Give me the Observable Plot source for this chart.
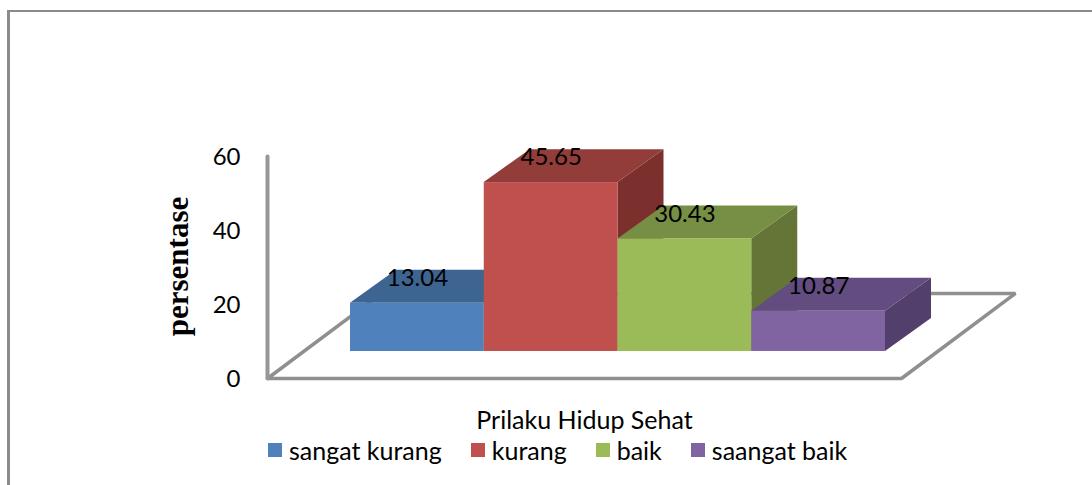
<!DOCTYPE html>
<html>
<head>
<meta charset="utf-8">
<script src="https://cdn.jsdelivr.net/npm/d3@7"></script>
<script src="https://cdn.jsdelivr.net/npm/@observablehq/plot@0.6"></script>
<style>
  html, body { margin: 0; padding: 0; background: #fff; overflow: hidden; }
  #page { position: relative; width: 1092px; height: 485px; font-family: Lato, sans-serif; }
  #page svg { display: block; position: absolute; left: 0; top: 0; }
  #border { position: absolute; left: 7px; top: 10px; right: 0; bottom: 0; border-left: 3px solid #8b8b8b; border-top: 2px solid #8b8b8b; }
  #legend { position: absolute; left: 268px; top: 434px; display: flex; align-items: center; font-size: 25px; line-height: 32px; color: #000; white-space: nowrap; }
  #legend .item { display: flex; align-items: center; margin-right: 29px; }
  #legend .sw { width: 14px; height: 14px; margin-right: 7px; }
</style>
</head>
<body>
<div id="page">
  <div id="border"></div>
  <div id="chart"></div>
  <div id="legend"></div>
</div>
<script>
const categories = ["sangat kurang", "kurang", "baik", "saangat baik"];
const values = [13.04, 45.65, 30.43, 10.87];
const labels = ["13.04", "45.65", "30.43", "10.87"];
const yTicks = [0, 20, 40, 60];
const yLabel = "persentase";
const xLabel = "Prilaku Hidup Sehat";
const frontColors = ["#4f81bd", "#c0504d", "#9bbb59", "#8064a2"];
const topColors = ["#3e6491", "#933d3b", "#778e45", "#624c80"];
const sideColors = ["#33527a", "#7b302e", "#647537", "#533f6c"];

// Projection constants of the pseudo-3D scene, in scale units
const barLift = 7.3;      // front plane of the bars above the floor's front edge
const depthX = 0.344;     // bar depth along x (in bars)
const depthY = 8.9;       // bar depth along y (in percent)
const floorX = 0.852;     // floor depth along x
const floorY = 23;        // floor depth along y
const xMin = -0.6206, xMax = 4.1196;

const gray = "#8f8f8f";
const floorPath = [
  [xMin, 0], [xMax, 0], [xMax + floorX, floorY], [xMin + floorX, floorY], [xMin, 0]
];

const barMarks = categories.flatMap((c, i) => {
  const base = barLift, top = barLift + values[i];
  return [
    Plot.areaY(
      [{x: i + 1, y1: base, y2: top}, {x: i + 1 + depthX, y1: base + depthY, y2: top + depthY}],
      {x: "x", y1: "y1", y2: "y2", fill: sideColors[i]}
    ),
    Plot.areaX(
      [{y: top, x1: i, x2: i + 1}, {y: top + depthY, x1: i + depthX, x2: i + 1 + depthX}],
      {y: "y", x1: "x1", x2: "x2", fill: topColors[i]}
    ),
    Plot.rect([{x1: i, x2: i + 1, y1: base, y2: top}],
      {x1: "x1", x2: "x2", y1: "y1", y2: "y2", fill: frontColors[i]})
  ];
});

const chart = Plot.plot({
  width: 1092,
  height: 434,
  marginLeft: 267,
  marginRight: 191,
  marginTop: 156,
  marginBottom: 56,
  x: {domain: [xMin, xMax], axis: null},
  y: {domain: [0, 60], axis: null},
  style: {fontFamily: "Lato, sans-serif", background: "transparent", color: "#000"},
  marks: [
    Plot.line(floorPath, {x: d => d[0], y: d => d[1], stroke: gray, strokeWidth: 3.5, strokeLinejoin: "miter"}),
    Plot.line([[xMin, 0], [xMin, 60]], {x: d => d[0], y: d => d[1], stroke: "#979797", strokeWidth: 4}),
    Plot.axisY({ticks: yTicks, tickSize: 0, tickPadding: 27, fontSize: 24, dy: 1, label: null, anchor: "left", x: xMin}),
    ...barMarks,
    Plot.text(values, {
      x: (d, i) => i + 0.5,
      y: d => barLift + d,
      text: (d, i) => labels[i],
      dy: -25,
      fontSize: 24,
      fill: "#000"
    }),
    Plot.text([yLabel], {
      frameAnchor: "left",
      textAnchor: "middle",
      lineAnchor: "middle",
      dx: -89,
      dy: -1,
      rotate: -90,
      fontFamily: "Liberation Serif, serif",
      fontWeight: "bold",
      fontSize: 31,
      fill: "#000"
    }),
    Plot.text([xLabel], {
      frameAnchor: "bottom",
      lineAnchor: "middle",
      dy: 42,
      fontSize: 25,
      fill: "#000"
    })
  ]
});
document.getElementById("chart").appendChild(chart);

const legend = document.getElementById("legend");
categories.forEach((c, i) => {
  const item = document.createElement("div");
  item.className = "item";
  const sw = document.createElement("span");
  sw.className = "sw";
  sw.style.background = frontColors[i];
  const t = document.createElement("span");
  t.textContent = c;
  item.append(sw, t);
  legend.append(item);
});
</script>
</body>
</html>
